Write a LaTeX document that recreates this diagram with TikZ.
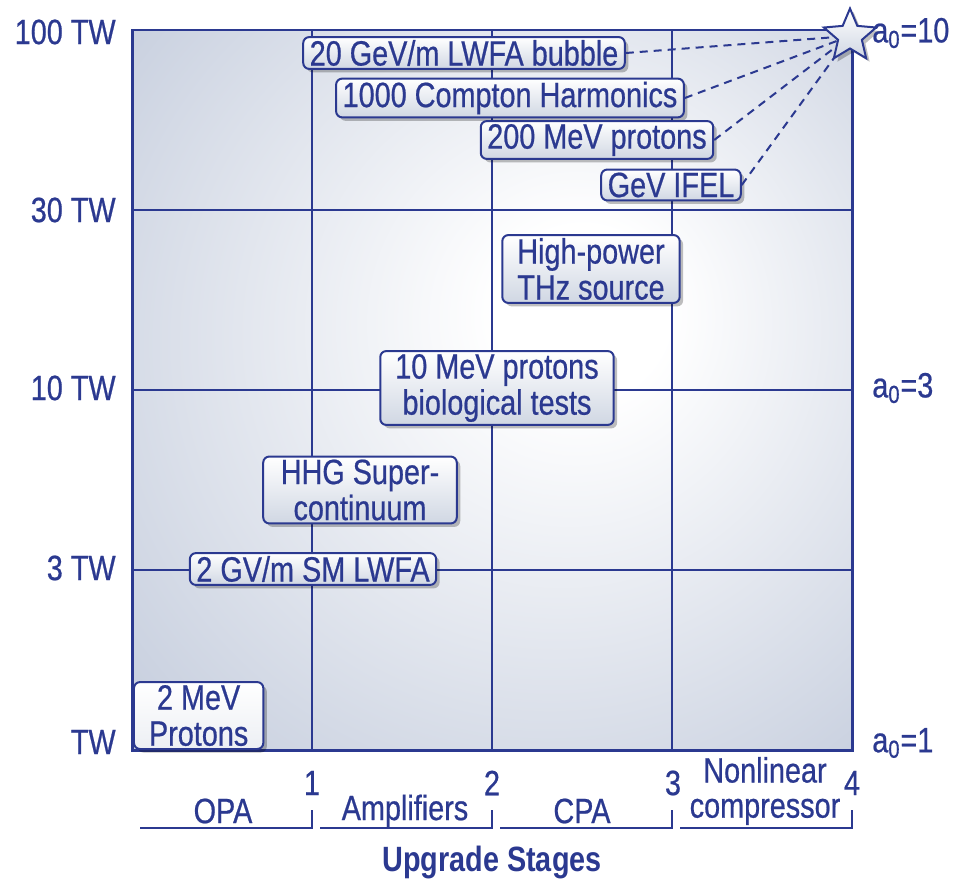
\documentclass[tikz,border=0pt]{standalone}
\usepackage{fontspec}
\setmainfont[FakeStretch=0.82, UprightFeatures={FakeBold=0.6}]{Liberation Sans}
\usepackage{xcolor}
\usetikzlibrary{positioning,shapes.geometric,shadows}

\definecolor{chartblue}{HTML}{2B3990}
\definecolor{plotedge}{HTML}{B7C1D5}
\definecolor{boxgrey}{HTML}{D0D7E3}

\pgfdeclareradialshading{plotglow}{\pgfpoint{7bp}{6bp}}{%
  color(0bp)=(white); color(6bp)=(white); color(46bp)=(plotedge); color(60bp)=(plotedge)}

\begin{document}
\begin{tikzpicture}[
  x=0.02cm, y=-0.02cm,
  big/.style={font=\fontsize{20}{20.5}\selectfont},
  tag/.style={big, draw=chartblue, line width=0.04cm, rounded corners=0.12cm,
    top color=white, bottom color=boxgrey, text=chartblue, align=center,
    inner xsep=0.13cm, inner ysep=0.06cm,
    drop shadow={shadow xshift=0.07cm, shadow yshift=-0.07cm, opacity=0.25, fill=black}},
  widetag/.style={tag, inner xsep=0.3cm},
  axlbl/.style={big, text=chartblue, inner sep=0pt},
  gridline/.style={draw=chartblue, line width=0.03cm},
  dashline/.style={draw=chartblue, line width=0.04cm, dash pattern=on 0.16cm off 0.12cm},
  bracket/.style={draw=chartblue, line width=0.03cm}
]
\useasboundingbox (0,0) rectangle (958,879);

% plot area
\shade[shading=plotglow] (132,30) rectangle (852,750);
\foreach \g in {312,492,672}
  \draw[gridline] (\g,30) -- (\g,750);
\foreach \g in {210,390,570}
  \draw[gridline] (132,\g) -- (852,\g);
\draw[chartblue, line width=0.06cm] (132,30) rectangle (852,750);

% power axis
\node[axlbl, anchor=east] (tw100) at (116,32) {100 TW};
\node[axlbl, anchor=east] (tw30) at (116,210) {30 TW};
\node[axlbl, anchor=east] (tw10) at (116,388) {10 TW};
\node[axlbl, anchor=east] (tw3) at (116,568) {3 TW};
\node[axlbl, anchor=east] (tw1) at (116,742) {TW};

% applications
\node[tag] (lwfa) at (464,53) {20 GeV/m LWFA bubble};
\node[tag] (compton) at (510,98) {1000 Compton Harmonics};
\node[tag] (prot200) at (597,140) {200 MeV protons};
\node[tag] (ifel) at (671,185) {GeV IFEL};
\node[widetag] (thz) at (591,269) {High-power\\THz source};
\node[widetag] (bio) at (497,388) {10 MeV protons\\biological tests};
\node[widetag, inner xsep=0.35cm] (hhg) at (360,490) {HHG Super-\\continuum};
\node[tag] (smlwfa) at (313,569) {2 GV/m SM LWFA};
\node[widetag, top color=white, bottom color=white!60!boxgrey, anchor=south west] (prot2) at (133,750) {2 MeV\\Protons};

% star at the top corner
\coordinate (starc) at (850,36);
\foreach \src in {lwfa,compton,prot200,ifel}
  \draw[dashline] (\src.east) -- (starc);
\node[star, star points=5, star point ratio=2.2, minimum size=1.1cm, inner sep=0pt,
  draw=chartblue, line width=0.04cm, top color=white, bottom color=boxgrey,
  drop shadow={shadow xshift=0.07cm, shadow yshift=-0.07cm, opacity=0.25, fill=black}] (star) at (starc) {};

% a0 labels
\node[axlbl, anchor=west] (a10) at (872,33) {a\textsubscript{0}=10};
\node[axlbl, anchor=west] (a3) at (872,388) {a\textsubscript{0}=3};
\node[axlbl, anchor=west] (a1) at (872,743) {a\textsubscript{0}=1};

% stages
\foreach \xa/\xb in {140/312,320/492,500/672,680/852}
  \draw[bracket] (\xa,828) -| (\xb,810);
\node[axlbl] (n1) at (312,783) {1};
\node[axlbl] (n2) at (492,783) {2};
\node[axlbl] (n3) at (673,783) {3};
\node[axlbl] (n4) at (852,783) {4};
\node[axlbl] (opa) at (223,811) {OPA};
\node[axlbl] (amp) at (405,811) {Amplifiers};
\node[axlbl] (cpa) at (582,811) {CPA};
\node[axlbl, align=center, font=\fontsize{20}{20}\selectfont] (nlc) at (765,791) {Nonlinear\\compressor};
\node[axlbl, font=\fontsize{20}{20}\selectfont\bfseries] (stages) at (492,862) {Upgrade Stages};
\end{tikzpicture}
\end{document}
